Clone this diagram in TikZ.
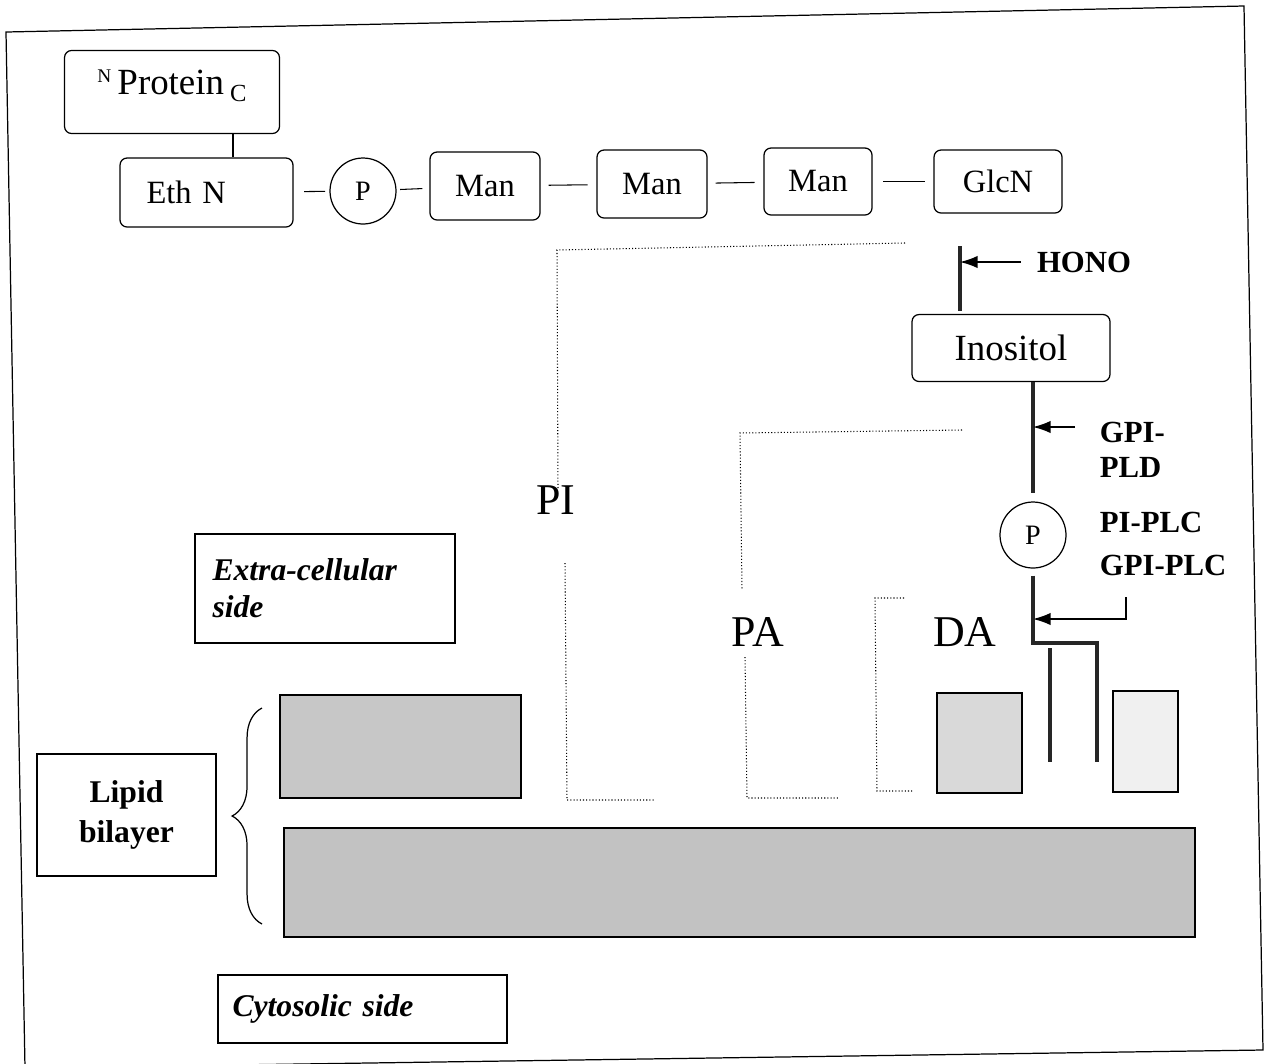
\documentclass[tikz,border=0pt]{standalone}
\usepackage{fontspec}
\setmainfont{Liberation Serif}
\usetikzlibrary{arrows.meta,decorations.pathreplacing}

\begin{document}
\begin{tikzpicture}[x=0.02cm,y=-0.02cm,
   sugar/.style={draw,rounded corners=4pt,line width=0.7pt,inner sep=2pt,
     font=\fontsize{18.5}{22}\selectfont},
   phos/.style={circle,draw,line width=0.7pt,minimum size=1.32cm,inner sep=0pt,
     font=\fontsize{16}{19}\selectfont},
   sidebox/.style={draw,line width=0.7pt,inner sep=4pt,
     font=\fontsize{18}{21}\selectfont\bfseries\itshape},
   enz/.style={font=\fontsize{17.5}{20}\selectfont\bfseries,align=left,inner sep=2pt},
   bond/.style={line width=0.6pt},
   cut/.style={line width=2.6pt,draw=black!85},
   hook/.style={line width=0.8pt,-{Latex[length=10pt,width=7pt]}},
   dots/.style={line width=0.6pt,dash pattern=on 0.6pt off 1.2pt},
   frac/.style={font=\fontsize{25}{30}\selectfont,inner sep=1pt}]
  \useasboundingbox (0,0) rectangle (1269,1063);
  % frame
  \draw[line width=0.7pt] (6,32) -- (1244,6) -- (1263,1050) -- (25,1068) -- cycle;

  % anchor chain
  \node[sugar,minimum width=4.3cm,minimum height=1.66cm,
    text height=0.81cm,text depth=0.71cm,font=\fontsize{21}{25}\selectfont] (protein) at (172,92)
    {\raisebox{7pt}{\fontsize{11}{13}\selectfont N}\,Protein\,\raisebox{-4pt}{\fontsize{14}{16}\selectfont C}};
  \node[sugar,minimum width=3.46cm,minimum height=1.38cm,text width=2.4cm,align=left] (eth) at (206.5,192.5) {Eth N};
  \node[phos] (p1) at (363,191) {P};
  \node[sugar,minimum width=2.2cm,minimum height=1.36cm] (man1) at (485,186) {Man};
  \node[sugar,minimum width=2.2cm,minimum height=1.36cm] (man2) at (652,184) {Man};
  \node[sugar,minimum width=2.16cm,minimum height=1.34cm] (man3) at (818,181.5) {Man};
  \node[sugar,minimum width=2.56cm,minimum height=1.26cm] (glcn) at (998,181.5) {GlcN};
  \node[sugar,minimum width=3.96cm,minimum height=1.34cm,font=\fontsize{21}{25}\selectfont] (ino) at (1011,348) {Inositol};
  \node[phos] (p2) at (1033,535) {P};

  \coordinate (link) at ([xshift=1.22cm]protein.south);
  \draw[bond] (link) -- (link |- eth.north);
  \draw[bond,shorten <=6pt,shorten >=2.5pt] (eth) -- (p1);
  \draw[bond,shorten <=2pt,shorten >=4pt] (p1) -- (man1);
  \draw[bond,shorten <=4.5pt,shorten >=5pt] (man1) -- (man2);
  \draw[bond,shorten <=4.5pt,shorten >=5pt] (man2) -- (man3);
  \draw[bond,shorten <=6pt,shorten >=5pt] (man3) -- (glcn);

  % cleavage sites
  \coordinate (hono top) at (960,246);
  \coordinate (hono bot) at (960,311);
  \draw[cut] (hono top) -- (hono bot);
  \node[enz] (hono) at (1084,262) {HONO};
  \draw[hook,shorten <=7pt] (hono.west) -- (hono top |- hono.west);

  \draw[cut,shorten >=5pt] (p2.north |- ino.south) -- (p2.north);
  \node[enz,anchor=north west] (pld) at (1096,418) {GPI-\\PLD};
  \coordinate (pld tail) at (1075,427);
  \draw[hook] (pld tail) -- (pld tail -| p2.north);

  \node[enz,anchor=west] (plc) at (1096,544) {PI-PLC\\[4pt]GPI-PLC};
  \coordinate (plc tick) at (1126,597);
  \path (plc tick) ++(0,22) coordinate (plc bend);
  \draw[hook] (plc tick) -- (plc bend) -- (plc bend -| p2.south);

  % diacylglycerol tails
  \coordinate (tail a) at (1050,648);
  \coordinate (tail b) at (1097,643);
  \draw[cut,shorten <=4pt] (p2.south) |- (tail b) -- ++(0,119);
  \draw[cut] (tail a) -- ++(0,114);

  % released fragments
  \draw[dots] (905,243) -- (557,250) -- (558,490);
  \node[frac] (pi) at (556,500) {PI};
  \draw[dots] (565,563) -- (567,800) -- (655,800);
  \draw[dots] (962,430) -- (740,433) -- (742,590);
  \node[frac] (pa) at (758,632) {PA};
  \draw[dots] (745,657) -- (747,798) -- (839,798);
  \draw[dots] (904,598) -- (875,598) -- (877,791) -- (914,791);
  \node[frac] (da) at (965,632) {DA};

  % membrane
  \draw[line width=0.7pt,fill=black!22] (280,695) rectangle (521,798);
  \draw[line width=0.7pt,fill=black!24] (284,828) rectangle (1195,937);
  \draw[line width=0.7pt,fill=black!15] (937,693) rectangle (1022,793);
  \draw[line width=0.7pt,fill=black!6] (1113,691) rectangle (1178,792);
  \draw[line width=0.7pt,decorate,decoration={brace,amplitude=17pt}] (262,924) -- (262,708);

  \node[sidebox,minimum width=5.2cm,minimum height=2.18cm,text width=4.5cm,align=left] (extra) at (325,588.5) {Extra-cellular\\side};
  \node[sidebox,minimum width=3.58cm,minimum height=2.44cm,align=center,
    font=\fontsize{18}{23}\selectfont\bfseries] (bilayer) at (126.5,815) {Lipid\\bilayer};
  \node[sidebox,minimum width=5.78cm,minimum height=1.36cm,text width=5.2cm,align=left] (cyto) at (362.5,1009) {Cytosolic side};
\end{tikzpicture}
\end{document}
